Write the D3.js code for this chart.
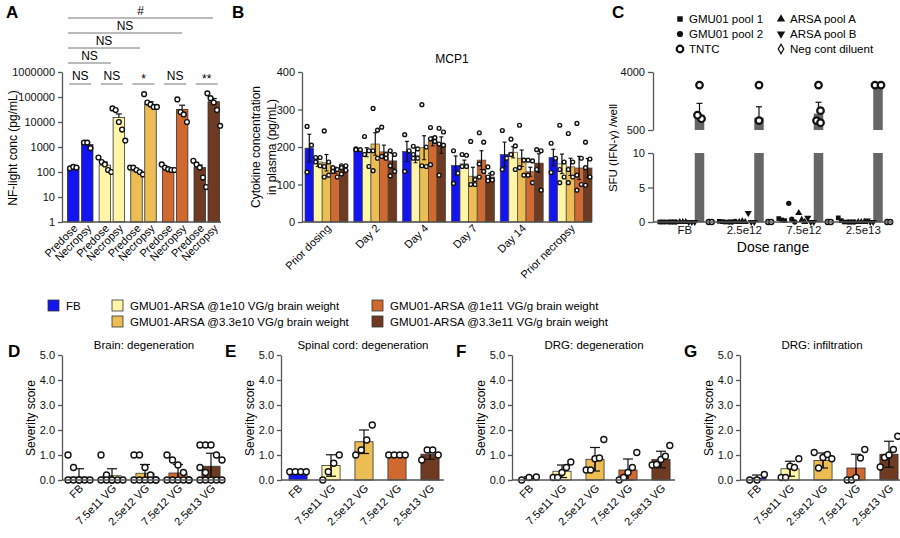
<!DOCTYPE html>
<html><head><meta charset="utf-8">
<script src="https://cdn.jsdelivr.net/npm/d3@7"></script>
<style>body{margin:0;background:#fff}svg{font-family:"Liberation Sans",Arial,sans-serif}</style>
</head><body><svg id="fig" width="900" height="538"></svg>
<script>
"use strict";
// ---- data ----
var groupColors = ["#1414f0", "#fff5a6", "#ebbd52", "#d0692f", "#6e3a22"];
var legendNames = ["FB", "GMU01-ARSA @1e10 VG/g brain weight", "GMU01-ARSA @1e11 VG/g brain weight",
  "GMU01-ARSA @3.3e10 VG/g brain weight", "GMU01-ARSA @3.3e11 VG/g brain weight"];
var legendColorIdx = [0, 1, 3, 2, 4];

// A: NF-light, pairs predose / necropsy per group
var nfMeans = [[150, 1250], [190, 15000], [110, 50000], [135, 32000], [150, 65000]];
var nfSem = [[15, 250], [60, 6000], [20, 15000], [15, 15000], [40, 22000]];
var nfPoints = [
  [[140, 160, 150], [1500, 1500, 900]],
  [[380, 250, 200, 120, 100], [35000, 30000, 10000, 5000, 1800]],
  [[150, 150, 120, 100, 80], [130000, 60000, 50000, 40000, 40000]],
  [[200, 150, 130, 120, 120], [80000, 25000, 20000, 10000]],
  [[280, 200, 150, 60, 25], [140000, 90000, 60000, 30000, 7000]]];
var nfLabels = ["Predose", "Necropsy"];
var nfTicks = [1, 10, 100, 1000, 10000, 100000, 1000000];

// B: MCP1
var mcpDays = ["Prior dosing", "Day 2", "Day 4", "Day 7", "Day 14", "Prior necropsy"];
var mcpMeans = [[197, 160, 158, 138, 139], [192, 186, 208, 187, 163], [188, 178, 198, 215, 205],
  [151, 155, 122, 165, 120], [180, 186, 170, 134, 157], [172, 155, 147, 144, 144]];
var mcpSem = [[37, 12, 22, 8, 8], [3, 12, 30, 18, 20], [27, 20, 32, 12, 22],
  [25, 10, 24, 25, 10], [33, 15, 22, 12, 25], [22, 26, 23, 31, 25]];
var mcpPoints = [
  [[255, 205, 133], [172, 172, 160, 150], [243, 160, 148, 125, 120], [145, 140, 135, 120], [150, 150, 145, 138, 128]],
  [[195, 193, 193], [228, 190, 180, 148], [303, 245, 190, 170, 137], [253, 180, 175, 170], [190, 180, 150, 135, 123]],
  [[233, 190, 135], [202, 195, 180, 170, 170], [313, 200, 150, 148], [252, 225, 222, 215, 153], [250, 240, 208, 205, 125]],
  [[190, 130, 103], [180, 178, 148, 148], [215, 113, 100, 100], [238, 213, 155, 135, 120], [147, 130, 120, 112, 110]],
  [[244, 170, 140], [221, 203, 180, 140], [258, 165, 145, 125], [165, 163, 125, 105], [193, 190, 140, 85]],
  [[210, 170, 132], [258, 160, 140, 120, 105], [236, 160, 140, 120, 105], [263, 170, 125, 100, 85], [213, 168, 145, 120, 98]]];

// C: ELISpot
var doses = ["FB", "2.5e12", "7.5e12", "2.5e13"];
var tntcBar = [850, 780, 900, 2500];
var tntcErr = [1300, 1150, 1350, 2500];
var tntcPoints = [[2500, 750, 850], [2500, 700], [2500, 1000, 700, 650], [2500, 2500]];
var pool1 = [[0, 0, 0], [0.1, 0.05, 0], [0.5, 0.3, 0.2], [0.6, 0.2, 0]];
var pool2 = [[0, 0, 0], [0, 0, 0.1], [2.7, 0.4, 0], [0, 0, 0]];
var arsaA = [[0, 0, 0], [0, 0.1, 0], [1.3, 0.3, 0], [0, 0, 0]];
var arsaB = [[0, 0, 0], [1.3, 0, 0], [0.6, 0, 0], [0.2, 0, 0]];
var negCont = [[0, 0], [0, 0], [0, 0], [0, 0]];
var cLegend = ["GMU01 pool 1", "GMU01 pool 2", "TNTC", "ARSA pool A", "ARSA pool B", "Neg cont diluent"];

// D-G: severity
var sevGroups = ["FB", "7.5e11 VG", "2.5e12 VG", "7.5e12 VG", "2.5e13 VG"];
var sevTitles = ["Brain: degeneration", "Spinal cord: degeneration", "DRG: degeneration", "DRG: infiltration"];
var sevLetters = ["D", "E", "F", "G"];
var sevMeans = [[0.12, 0.17, 0.27, 0.28, 0.55], [0.33, 0.58, 1.53, 1.0, 1.03],
  [0.07, 0.35, 0.83, 0.4, 0.82], [0.08, 0.45, 0.78, 0.48, 1.03]];
var sevSd = [[0.33, 0.28, 0.35, 0.34, 0.52], [0, 0.43, 0.47, 0, 0.2],
  [0.06, 0.25, 0.47, 0.44, 0.33], [0.12, 0.3, 0.3, 0.55, 0.52]];
var sevPoints = [
  [[1, 0.5, 0, 0, 0, 0, 0, 0], [1, 0.2, 0, 0, 0, 0, 0, 0], [1, 1, 0.5, 0.2, 0, 0, 0, 0, 0, 0], [1, 0.8, 0.6, 0.3, 0, 0, 0, 0, 0, 0], [1.4, 1.4, 1.4, 1, 0.8, 0.5, 0.3, 0, 0, 0, 0, 0]],
  [[0.33, 0.33, 0.33, 0.33], [0, 0.33, 0.67, 1.0], [1.0, 1.2, 1.6, 2.2], [1, 1, 1, 1], [0.8, 1.2, 1.2, 1.0]],
  [[0, 0.1, 0.12], [0.1, 0.1, 0.3, 0.5, 0.72], [0.4, 0.4, 0.85, 0.88, 1.62], [0, 0.1, 0.3, 0.5, 1.1], [0.6, 0.62, 0.82, 0.95, 1.38]],
  [[0, 0, 0.22], [0.1, 0.1, 0.55, 0.5, 0.85], [1.1, 0.48, 0.9, 1.02, 0.85], [0, 0, 0.1, 0.88, 1.22], [0.52, 0.9, 1.0, 1.22, 1.75]]];
var sevTicks = [0, 1, 2, 3, 4, 5];

// ---- drawing ----
var svg = d3.select("#fig");
var FS = 11;

function letter(t, x, y) {
  svg.append("text").attr("x", x).attr("y", y).attr("font-size", 17).attr("font-weight", "bold").text(t);
}
function yLabel(t, x, y, fs) {
  svg.append("text").attr("transform", "translate(" + x + "," + y + ") rotate(-90)")
    .attr("text-anchor", "middle").attr("font-size", fs || 12).text(t);
}
function styleAxis(g) {
  g.selectAll("path,line").attr("stroke", "#555").attr("stroke-width", 1.3);
  g.selectAll("text").attr("font-size", FS).attr("fill", "#111");
}
function rotLabels(g, xs, labels, y) {
  labels.forEach(function (l, i) {
    g.append("text").attr("transform", "translate(" + (xs[i] + 5) + "," + y + ") rotate(-45)")
      .attr("text-anchor", "end").attr("font-size", FS).text(l);
  });
}
function dot(g, x, y, r) {
  g.append("circle").attr("cx", x).attr("cy", y).attr("r", r || 2.6)
    .attr("fill", "#fff").attr("stroke", "#111").attr("stroke-width", 1.4);
}
function errBar(g, x, y1, y2, w) {
  g.append("line").attr("x1", x).attr("x2", x).attr("y1", y1).attr("y2", y2).attr("stroke", "#111").attr("stroke-width", 1.2);
  g.append("line").attr("x1", x - w).attr("x2", x + w).attr("y1", y2).attr("y2", y2).attr("stroke", "#111").attr("stroke-width", 1.2);
}

// ---- Panel A ----
(function () {
  letter("A", 6, 18);
  var y = d3.scaleLog().domain([1, 1000000]).range([222, 72]);
  var xg = d3.scaleBand().domain(d3.range(5)).range([66, 221]).paddingInner(0.1);
  var g = svg.append("g");
  var bw = 11.5, xs = [], labs = [];
  nfMeans.forEach(function (pair, i) {
    pair.forEach(function (m, j) {
      var cx = xg(i) + xg.bandwidth() / 2 + (j === 0 ? -7 : 7);
      xs.push(cx); labs.push(nfLabels[j]);
      g.append("rect").attr("x", cx - bw / 2).attr("y", y(m)).attr("width", bw).attr("height", 222 - y(m))
        .attr("fill", groupColors[i]).attr("stroke", "#333").attr("stroke-width", 0.8);
      errBar(g, cx, y(m), y(m + nfSem[i][j]), 3);
      nfPoints[i][j].forEach(function (v, k) {
        var n = nfPoints[i][j].length;
        dot(g, cx + (k - (n - 1) / 2) * 3.2, y(v), 2.4);
      });
    });
  });
  var ax = g.append("g").attr("transform", "translate(62,0)")
    .call(d3.axisLeft(y).tickValues(nfTicks).tickFormat(d3.format("d")).tickSize(4).tickSizeOuter(0));
  styleAxis(ax);
  g.append("line").attr("x1", 62).attr("x2", 221).attr("y1", 222).attr("y2", 222).attr("stroke", "#555").attr("stroke-width", 1.3);
  rotLabels(g, xs, labs, 229);
  yLabel("NF-light conc (pg/mL)", 17, 148);
  // significance
  var pairSig = ["NS", "NS", "*", "NS", "**"];
  pairSig.forEach(function (s, i) {
    var a = xs[2 * i], b = xs[2 * i + 1];
    g.append("line").attr("x1", a - 4).attr("x2", b + 4).attr("y1", 84).attr("y2", 84).attr("stroke", "#777");
    g.append("text").attr("x", (a + b) / 2).attr("y", s.indexOf("*") >= 0 ? 83 : 80).attr("text-anchor", "middle").attr("font-size", 12).text(s);
  });
  var spans = [[111, 63, "NS"], [140, 48, "NS"], [182, 33, "NS"], [213, 18, "#"]];
  spans.forEach(function (s) {
    g.append("line").attr("x1", 68).attr("x2", s[0]).attr("y1", s[1]).attr("y2", s[1]).attr("stroke", "#777");
    g.append("text").attr("x", (68 + s[0]) / 2).attr("y", s[1] - 3).attr("text-anchor", "middle").attr("font-size", 12).text(s[2]);
  });
})();

// ---- Panel B ----
(function () {
  letter("B", 232, 18);
  var y = d3.scaleLinear().domain([0, 400]).range([222, 72]);
  var x0 = d3.scaleBand().domain(mcpDays).range([305, 592]).paddingInner(0.12);
  var x1 = d3.scaleBand().domain(d3.range(5)).range([0, x0.bandwidth()]);
  var g = svg.append("g");
  var centers = [];
  mcpDays.forEach(function (d, i) {
    centers.push(x0(d) + x0.bandwidth() / 2);
    mcpMeans[i].forEach(function (m, j) {
      var bx = x0(d) + x1(j), w = x1.bandwidth(), cx = bx + w / 2;
      g.append("rect").attr("x", bx).attr("y", y(m)).attr("width", w).attr("height", 222 - y(m))
        .attr("fill", groupColors[j]).attr("stroke", "#444").attr("stroke-width", 0.7);
      errBar(g, cx, y(m - mcpSem[i][j]), y(m + mcpSem[i][j]), 2);
      g.append("line").attr("x1", cx - 2).attr("x2", cx + 2).attr("y1", y(m - mcpSem[i][j])).attr("y2", y(m - mcpSem[i][j])).attr("stroke", "#111");
      mcpPoints[i][j].forEach(function (v, k) {
        dot(g, cx + (k % 2 ? 2.2 : -2.2), y(v), 1.9);
      });
    });
  });
  var ax = g.append("g").attr("transform", "translate(302,0)")
    .call(d3.axisLeft(y).ticks(4).tickSize(4).tickSizeOuter(0));
  styleAxis(ax);
  g.append("line").attr("x1", 302).attr("x2", 592).attr("y1", 222).attr("y2", 222).attr("stroke", "#555").attr("stroke-width", 1.3);
  rotLabels(g, centers, mcpDays, 229);
  g.append("text").attr("x", 452).attr("y", 63).attr("text-anchor", "middle").attr("font-size", 12).text("MCP1");
  yLabel("Cytokine concentration", 260, 147);
  yLabel("in plasma (pg/mL)", 276, 147);
})();

// ---- Legend ----
(function () {
  var pos = [[48, 310], [112, 310], [372, 310], [112, 326], [372, 326]];
  legendNames.forEach(function (n, i) {
    svg.append("rect").attr("x", pos[i][0]).attr("y", pos[i][1] - 10).attr("width", 11).attr("height", 11)
      .attr("fill", groupColors[legendColorIdx[i]]).attr("stroke", "#333").attr("stroke-width", 0.8);
    svg.append("text").attr("x", pos[i][0] + 18).attr("y", pos[i][1]).attr("font-size", 11.5).text(n);
  });
})();

// ---- Panel C ----
(function () {
  letter("C", 612, 18);
  var yTop = d3.scaleLog().domain([500, 4000]).range([130, 72]);
  var yBot = d3.scaleLinear().domain([0, 10]).range([222, 153]);
  var xg = d3.scaleBand().domain(doses).range([655, 893]);
  var g = svg.append("g");
  doses.forEach(function (d, i) {
    var x0 = xg(d), c = x0 + xg.bandwidth() / 2;
    var barX = c + 10;
    g.append("rect").attr("x", barX).attr("y", 153).attr("width", 9.5).attr("height", 69).attr("fill", "#666");
    g.append("rect").attr("x", barX).attr("y", yTop(tntcBar[i])).attr("width", 9.5).attr("height", 130 - yTop(tntcBar[i])).attr("fill", "#666");
    if (tntcErr[i] > tntcBar[i]) errBar(g, barX + 4.75, yTop(tntcBar[i]), yTop(tntcErr[i]), 3);
    tntcPoints[i].forEach(function (v, k) {
      g.append("circle").attr("cx", barX + 4.75 + (k > 0 && tntcPoints[i].length > 2 ? (k % 2 ? 2 : -2) : (i === 3 ? (k ? 3 : -3) : 0)))
        .attr("cy", yTop(v)).attr("r", 3.3).attr("fill", "#fff").attr("stroke", "#111").attr("stroke-width", 2.2);
    });
    var sym = [[pool1, d3.symbolSquare, -25], [pool2, d3.symbolCircle, -15], [arsaA, d3.symbolTriangle, -5], [arsaB, d3.symbolTriangle, 4]];
    sym.forEach(function (s, si) {
      s[0][i].forEach(function (v, k) {
        g.append("path").attr("d", d3.symbol().type(s[1]).size(22))
          .attr("transform", "translate(" + (c + s[2] + k * 3) + "," + yBot(v) + ")" + (si === 3 ? " rotate(180)" : ""))
          .attr("fill", "#111");
      });
    });
    negCont[i].forEach(function (v, k) {
      g.append("circle").attr("cx", c + 24 + k * 3).attr("cy", yBot(v)).attr("r", 2.5).attr("fill", "#fff").attr("stroke", "#111").attr("stroke-width", 1.4);
    });
  });
  var a1 = g.append("g").attr("transform", "translate(653,0)")
    .call(d3.axisLeft(yTop).tickValues([500, 4000]).tickFormat(d3.format("d")).tickSize(5).tickSizeOuter(0));
  styleAxis(a1);
  var a2 = g.append("g").attr("transform", "translate(653,0)")
    .call(d3.axisLeft(yBot).tickValues([0, 5, 10]).tickSize(5).tickSizeOuter(0));
  styleAxis(a2);
  g.append("line").attr("x1", 653).attr("x2", 893).attr("y1", 222).attr("y2", 222).attr("stroke", "#555").attr("stroke-width", 1.3);
  var ax = g.append("g").attr("transform", "translate(0,222)").call(d3.axisBottom(xg).tickSize(0).tickPadding(4));
  ax.select(".domain").remove();
  ax.selectAll("text").attr("font-size", FS + 0.5).attr("fill", "#111");
  g.append("text").attr("x", 773).attr("y", 252).attr("text-anchor", "middle").attr("font-size", 14).text("Dose range");
  yLabel("SFU (IFN-\u03b3) /well", 617, 148, 11.5);
  // legend
  var lp = [[680, 23], [680, 38], [680, 53], [781, 23], [781, 38], [781, 53]];
  var lsym = [d3.symbolSquare, d3.symbolCircle, null, d3.symbolTriangle, d3.symbolTriangle, d3.symbolDiamond];
  cLegend.forEach(function (n, i) {
    var p = lp[i];
    if (i === 2) {
      g.append("circle").attr("cx", p[0]).attr("cy", p[1] - 4).attr("r", 3.3).attr("fill", "#fff").attr("stroke", "#111").attr("stroke-width", 2.2);
    } else {
      g.append("path").attr("d", d3.symbol().type(lsym[i]).size(i === 5 ? 26 : 30))
        .attr("transform", "translate(" + p[0] + "," + (p[1] - 4) + ")" + (i === 4 ? " rotate(180)" : ""))
        .attr("fill", i === 5 ? "#fff" : "#111").attr("stroke", "#111").attr("stroke-width", i === 5 ? 1.3 : 0);
    }
    g.append("text").attr("x", p[0] + 9).attr("y", p[1]).attr("font-size", 11.5).text(n);
  });
})();

// ---- Panels D-G ----
var sevAxisX = [62, 281, 512, 740];
sevTitles.forEach(function (title, pi) {
  var ax0 = sevAxisX[pi];
  letter(sevLetters[pi], ax0 - 56 + (pi === 0 ? 2 : 0), 357);
  var y = d3.scaleLinear().domain([0, 5]).range([480, 355]);
  var x = d3.scaleBand().domain(sevGroups).range([ax0 + 3, ax0 + 163]).paddingInner(0.45).paddingOuter(0.15);
  var g = svg.append("g");
  var centers = [];
  sevGroups.forEach(function (s, i) {
    var m = sevMeans[pi][i], bx = x(s), w = x.bandwidth(), cx = bx + w / 2;
    centers.push(cx);
    g.append("rect").attr("x", bx).attr("y", y(m)).attr("width", w).attr("height", 480 - y(m))
      .attr("fill", groupColors[i]).attr("stroke", "#333").attr("stroke-width", 0.8);
    var sd = sevSd[pi][i];
    if (sd > 0) {
      errBar(g, cx, y(Math.max(0, m - sd)), y(m + sd), 5);
      errBar(g, cx, y(m), y(Math.max(0, m - sd)), 5);
    }
    var pts = sevPoints[pi][i], n = pts.length;
    pts.forEach(function (v, k) {
      var cols = Math.min(n, pi === 0 ? 5 : 4);
      var off = pi === 0 ? ((k % cols) - (cols - 1) / 2) * 5.5 : (k - (n - 1) / 2) * (22 / Math.max(n, 3));
      dot(g, cx + off, y(v), 3);
    });
  });
  var ax = g.append("g").attr("transform", "translate(" + ax0 + ",0)")
    .call(d3.axisLeft(y).tickValues(sevTicks).tickSize(4).tickSizeOuter(0));
  styleAxis(ax);
  g.append("line").attr("x1", ax0).attr("x2", ax0 + 163).attr("y1", 480).attr("y2", 480).attr("stroke", "#555").attr("stroke-width", 1.3);
  rotLabels(g, centers, sevGroups, 489);
  g.append("text").attr("x", ax0 + 82).attr("y", 349).attr("text-anchor", "middle").attr("font-size", 11.5).text(title);
  yLabel("Severity score", ax0 - 27, 418);
});
</script></body></html>
